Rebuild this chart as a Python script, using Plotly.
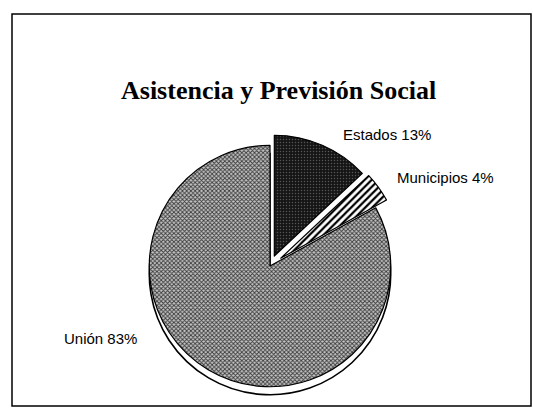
import plotly.graph_objects as go

labels = ["Estados", "Municipios", "Unión"]
values = [13, 4, 83]
pulls = [0.09, 0.11, 0.0]
title = "Asistencia y Previsión Social"

W, H = 533, 408
cx, cy = 270, 266  # pie centre in px (from top)
half = 134
shadow_dy = 8

def px_dom(c, h, total, flip=False):
    if flip:
        lo, hi = (total - (c + h)) / total, (total - (c - h)) / total
    else:
        lo, hi = (c - h) / total, (c + h) / total
    return [max(0.0, lo), min(1.0, hi)]

fig = go.Figure()

# 3D-like rim shadow behind the pie
fig.add_trace(go.Pie(
    labels=labels, values=values, sort=False, direction="clockwise",
    pull=pulls, textinfo="none", hoverinfo="skip", showlegend=False,
    domain=dict(x=px_dom(cx, half, W), y=px_dom(cy + shadow_dy, half, H, flip=True)),
    marker=dict(colors=["rgba(0,0,0,0)", "rgba(0,0,0,0)", "white"],
                line=dict(color=["rgba(0,0,0,0)", "rgba(0,0,0,0)", "black"], width=1.6)),
))

fig.add_trace(go.Pie(
    labels=labels, values=values, sort=False, direction="clockwise",
    pull=pulls, textinfo="none", showlegend=False,
    domain=dict(x=px_dom(cx, half, W), y=px_dom(cy, half, H, flip=True)),
    marker=dict(
        colors=["#151515", "white", "white"],
        line=dict(color=["black", "black", "black"], width=1.2),
        pattern=dict(
            shape=[".", "/", "x"],
            fgcolor=["#555555", "black", "#3a3a3a"],
            bgcolor=["#151515", "white", "#c4c4c4"],
            size=[3, 5, 3],
            solidity=[0.2, 0.45, 0.5],
        ),
    ),
))

label_pos = {"Estados": (341, 135, "left"), "Municipios": (395, 177, "left"), "Unión": (62, 338, "left")}
for lab, val in zip(labels, values):
    x, y, anc = label_pos[lab]
    fig.add_annotation(x=x / W, y=1 - y / H, xref="paper", yref="paper",
                       text=f"{lab} {val}%", showarrow=False, xanchor=anc, yanchor="middle",
                       font=dict(family="Liberation Sans, Arial", size=15, color="black"))

fig.add_annotation(x=278 / W, y=1 - 90 / H, xref="paper", yref="paper", text=f"<b>{title}</b>",
                   showarrow=False, xanchor="center", yanchor="middle",
                   font=dict(family="Liberation Serif, Times New Roman", size=26, color="black"))

fig.add_shape(type="rect", xref="paper", yref="paper",
              x0=12 / W, x1=531 / W, y0=1 - 406 / H, y1=1 - 14 / H,
              line=dict(color="black", width=1.5))

fig.update_layout(width=W, height=H, margin=dict(l=0, r=0, t=0, b=0),
                  paper_bgcolor="white", plot_bgcolor="white")

fig.write_html("out.html")
